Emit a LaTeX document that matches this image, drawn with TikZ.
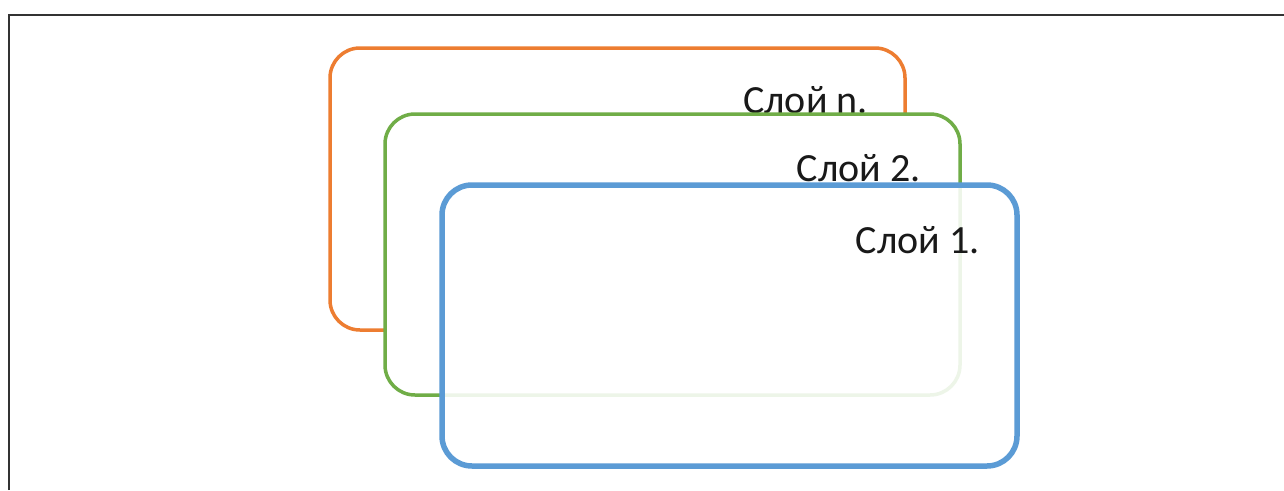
\documentclass[tikz,border=0pt]{standalone}
\usepackage{fontspec}
\setmainfont{Carlito}
\definecolor{lorange}{HTML}{ED7D31}
\definecolor{lgreen}{HTML}{70AD47}
\definecolor{lblue}{HTML}{5B9BD5}
\definecolor{frame}{HTML}{333333}
\begin{document}
\begin{tikzpicture}[x=1pt,y=-1pt,
  layer/.style={rounded corners=30pt, minimum width=575pt, minimum height=281pt, inner sep=0pt},
  lbl/.style={anchor=base east, inner sep=0pt, font=\fontsize{40}{45}\selectfont, text=black!90}]
\useasboundingbox (0,0) rectangle (1284,490);
\fill[white] (0,0) rectangle (1284,490);
\coordinate (fb) at (9,490);
\coordinate (fc) at (9,15);
\coordinate (fr) at (1284,15);
\draw[frame, line width=1.6pt] (fb) -- (fc) -- (fr);
\node[layer, draw=lorange, line width=3.5pt, fill=white, minimum height=282pt] (ln) at (617.5,189) {};
\node[lbl] (tn) at (868,113) {Слой n.};
\node[layer, draw=lgreen, line width=3.5pt, fill=white] (l2) at (672.5,254.5) {};
\node[lbl] (t2) at (921,181) {Слой 2.};
\node[layer, draw=lblue, line width=5.5pt, fill=white, fill opacity=0.88] (l1) at (729.5,325.5) {};
\node[lbl] (t1) at (980,253) {Слой 1.};
\end{tikzpicture}
\end{document}
